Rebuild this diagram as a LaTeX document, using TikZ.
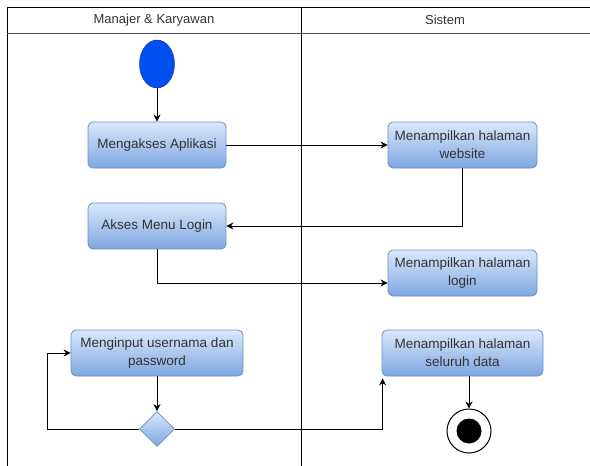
\documentclass[tikz,border=0pt]{standalone}
\usepackage{fontspec}
\setmainfont{Liberation Sans}
\usetikzlibrary{arrows.meta,positioning,shapes.geometric}
\definecolor{cAct}{HTML}{6C8EBF}
\definecolor{cActTop}{HTML}{DAE8FC}
\definecolor{cActBot}{HTML}{7EA6E0}
\definecolor{cStart}{HTML}{0050EF}
\definecolor{cStartLn}{HTML}{001DBC}
\definecolor{cTxt}{HTML}{333333}
\tikzset{
  act/.style={draw=cAct, line width=0.8pt, rounded corners=5pt, top color=cActTop,
    bottom color=cActBot, align=center, text=cTxt, inner sep=2pt,
    font=\fontsize{13.5}{18}\selectfont, minimum height=46pt},
  lane/.style={text=cTxt, font=\fontsize{13}{16}\selectfont},
  dec/.style={diamond, draw=cAct, line width=0.8pt, top color=cActTop,
    bottom color=cActBot, minimum width=35pt, minimum height=35pt, inner sep=0pt},
  startnode/.style={ellipse, draw=cStartLn, fill=cStart, minimum width=35pt,
    minimum height=48pt, inner sep=0pt},
  endring/.style={circle, draw=black, line width=1pt, fill=white, minimum size=44pt, inner sep=0pt},
  enddot/.style={circle, fill=black, minimum size=25pt, inner sep=0pt},
  flow/.style={-{Stealth[length=7pt, width=7pt]}, line width=0.8pt},
  frame/.style={draw=black, line width=1pt},
}
\begin{document}
\begin{tikzpicture}[x=1pt, y=-1pt]
  \useasboundingbox (0,0) rectangle (590,466);
  % --- swimlanes ---
  \draw[frame] (7,466) -- (7,7) -- (590,7);
  \draw[frame, draw=black!70] (7,33) -- (590,33);
  \draw[frame] (301,7) -- (301,466);
  \node[lane] (laneA) at (154,20) {Manajer \& Karyawan};
  \node[lane] (laneB) at (445,20) {Sistem};
  % --- activities ---
  \node[startnode] (start) at (157,64) {};
  \node[act, minimum width=138pt] (akses) at (157,145) {Mengakses Aplikasi};
  \node[act, minimum width=149pt] (web) at (462.5,145) {Menampilkan halaman\\website};
  \node[act, minimum width=138pt] (menu) at (157,226) {Akses Menu Login};
  \node[act, minimum width=149pt] (login) at (462.5,273) {Menampilkan halaman\\login};
  \node[act, minimum width=172pt] (input) at (157,353) {Menginput usernama dan\\password};
  \node[act, minimum width=161pt] (sel) at (462.5,353) {Menampilkan halaman\\seluruh data};
  \node[dec] (cek) at (157,429) {};
  \node[endring] (end) at (469,431) {};
  \node[enddot] (endin) at (end.center) {};
  \coordinate (loopL) at (47,429);
  % --- flows ---
  \draw[flow] (start) -- (akses);
  \draw[flow] (akses) -- (web);
  \draw[flow] (web.south) |- (menu.east);
  \draw[flow] (menu.south) |- ([yshift=-10pt]login.west);
  \draw[flow] (input) -- (cek);
  \draw[flow] (cek.west) -- (loopL) |- (input.west);
  \draw[flow] (cek.east) -| ([xshift=1pt,yshift=-2pt]sel.south west);
  \draw[flow] (end |- sel.south) -- (end);
\end{tikzpicture}
\end{document}
